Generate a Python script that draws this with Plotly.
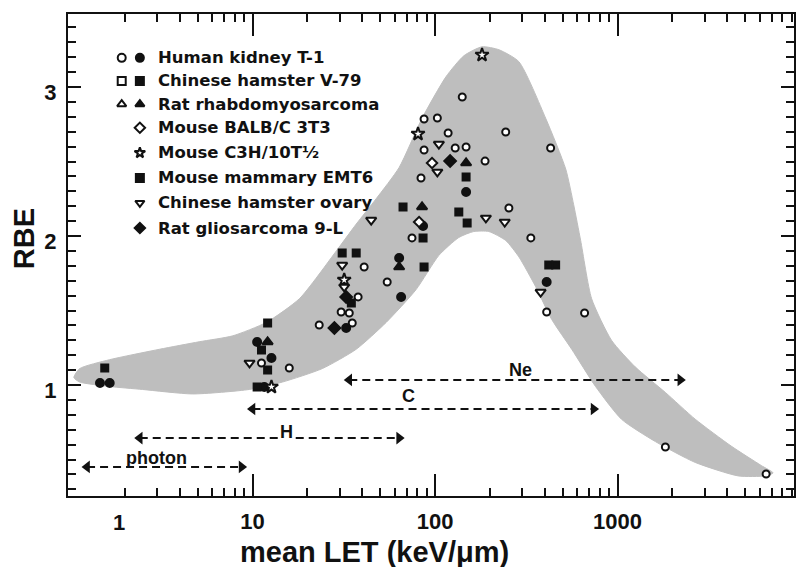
import numpy as np
import plotly.graph_objects as go

# ---------------- data ----------------
band_upper_let = [1.05, 1.13, 1.65, 3.1, 5.1, 7.8, 11.9, 18.1, 28.8, 37, 47.6, 63.6, 84.9, 115, 144, 181,
                  224, 288, 404, 520, 575, 628, 721, 927, 1254, 1829, 2668, 4197, 6124, 7120]
band_upper_rbe = [1.05, 1.11, 1.17, 1.24, 1.29, 1.33, 1.42, 1.58, 1.90, 2.08, 2.25, 2.46, 2.79, 3.07, 3.21, 3.27,
                  3.25, 3.17, 2.79, 2.45, 2.21, 1.97, 1.58, 1.30, 1.12, 0.95, 0.77, 0.59, 0.46, 0.41]
band_lower_let = [6440, 4581, 2668, 1614, 1052, 758, 561, 436, 356, 288, 244, 197, 163, 135, 105, 78.7,
                  54, 37, 24.1, 14.6, 9.6, 4.7, 2.5, 1.65, 1.13]
band_lower_rbe = [0.39, 0.39, 0.48, 0.62, 0.77, 0.99, 1.24, 1.44, 1.66, 1.86, 1.97, 2.03, 2.03, 1.99, 1.87, 1.64,
                  1.42, 1.24, 1.11, 1.02, 0.97, 0.94, 0.97, 0.99, 1.02]

kidney_open_let = [11.2, 15.9, 23.2, 35.2, 30.6, 33.9, 37.9, 40.9, 54.7, 74.8, 83.8, 87.1, 87.1, 103, 118, 129,
                   148, 188, 141, 244, 430, 254, 335, 409, 660, 1829, 6520]
kidney_open_rbe = [1.148, 1.114, 1.403, 1.416, 1.490, 1.483, 1.591, 1.792, 1.691, 1.987, 2.389, 2.577, 2.785,
                   2.792, 2.691, 2.591, 2.597, 2.503, 2.933, 2.698, 2.591, 2.188, 1.987, 1.490, 1.483, 0.584, 0.403]
kidney_filled_let = [1.46, 1.65, 10.6, 12.7, 11.6, 32.6, 65.2, 63.6, 86, 148, 409]
kidney_filled_rbe = [1.013, 1.013, 1.289, 1.181, 0.987, 1.383, 1.591, 1.852, 2.067, 2.295, 1.691]

v79_filled_let = [12.1, 11.2, 12.1, 34.8, 87.1, 66.8, 86, 148, 135, 150]
v79_filled_rbe = [1.416, 1.235, 1.101, 1.550, 1.792, 2.195, 1.987, 2.396, 2.161, 2.087]

rat_filled_let = [12.1, 63.6, 84.9, 148]
rat_filled_rbe = [1.289, 1.792, 2.195, 2.490]

balbc_let = [81.8, 96.3]
balbc_rbe = [2.094, 2.490]

c3h_let = [12.7, 31.8, 80.7, 181]
c3h_rbe = [0.987, 1.705, 2.685, 3.215]

emt6_let = [1.55, 10.6, 31.0, 37.0, 420, 458]
emt6_rbe = [1.114, 0.987, 1.886, 1.886, 1.805, 1.805]

cho_let = [9.63, 31.8, 31.0, 44.7, 103, 105, 190, 241, 379]
cho_rbe = [1.148, 1.658, 1.805, 2.107, 2.430, 2.617, 2.121, 2.094, 1.624]

gliosarcoma_let = [28.1, 32.6, 121]
gliosarcoma_rbe = [1.383, 1.591, 2.503]

arrow_labels = ["Ne", "C", "H", "photon"]
arrow_start_let = [33.9, 10.0, 2.41, 1.24]
arrow_end_let = [2208, 739, 63.6, 8.71]
arrow_rbe = [1.034, 0.839, 0.644, 0.450]
arrow_label_let = [295, 72, 15.3, 2.99]
arrow_label_rbe = [1.10, 0.926, 0.685, 0.51]

legend_names = ["Human kidney T-1", "Chinese hamster V-79", "Rat rhabdomyosarcoma", "Mouse BALB/C 3T3",
                "Mouse C3H/10T½", "Mouse mammary EMT6", "Chinese hamster ovary", "Rat gliosarcoma 9-L"]

x_tick_vals = [10, 100, 1000]
x_tick_text = ["10", "100", "1000"]
y_tick_vals = [1, 2, 3]
y_tick_text = ["1", "2", "3"]
x_title = "mean LET (keV/μm)"
y_title = "RBE"

# ---------------- styles ----------------
BLACK = "#111111"
BAND = "rgb(190,190,190)"
TXT = "Liberation Sans, Arial, sans-serif"
LEG = "DejaVu Sans, sans-serif"

fig = go.Figure()

# shaded band
fig.add_trace(go.Scatter(
    x=band_upper_let + band_lower_let + band_upper_let[:1],
    y=band_upper_rbe + band_lower_rbe + band_upper_rbe[:1],
    mode="lines", fill="toself", fillcolor=BAND,
    line=dict(color=BAND, width=1, shape="spline", smoothing=0.6),
    hoverinfo="skip", showlegend=False))

# dashed double arrows
for lab, x0, x1, yv in zip(arrow_labels, arrow_start_let, arrow_end_let, arrow_rbe):
    fig.add_trace(go.Scatter(
        x=[x0, x1], y=[yv, yv], mode="lines+markers",
        line=dict(color=BLACK, width=2, dash="8px,5px"),
        marker=dict(symbol=["triangle-left", "triangle-right"], size=11, color=BLACK, line=dict(width=0)),
        showlegend=False, hoverinfo="skip"))

for lab, xv, yv in zip(arrow_labels, arrow_label_let, arrow_label_rbe):
    fig.add_annotation(x=np.log10(xv), y=yv, text="<b>%s</b>" % lab, showarrow=False,
                       font=dict(family=TXT, size=18, color=BLACK),
                       bgcolor="white" if lab == "H" else "rgba(0,0,0,0)", borderpad=0)

def pts(x, y, symbol, filled, size=8):
    fig.add_trace(go.Scatter(
        x=x, y=y, mode="markers", showlegend=False,
        marker=dict(symbol=symbol, size=size, color=BLACK if filled else "white",
                    line=dict(color=BLACK, width=2))))

pts(kidney_open_let, kidney_open_rbe, "circle", False, 7)
pts(kidney_filled_let, kidney_filled_rbe, "circle", True, 8)
pts(v79_filled_let, v79_filled_rbe, "square", True, 7)
pts(emt6_let, emt6_rbe, "square", True, 7)
pts(rat_filled_let, rat_filled_rbe, "triangle-up", True, 9)
pts(balbc_let, balbc_rbe, "diamond", False, 8)
pts(c3h_let, c3h_rbe, "star", False, 10)
pts(cho_let, cho_rbe, "triangle-down", False, 9)
pts(gliosarcoma_let, gliosarcoma_rbe, "diamond", True, 9)

# ---------------- hand-made legend (overlay axes in plot-area fractions) ----------------
leg_rows_y = [0.909, 0.861, 0.813, 0.764, 0.712, 0.660, 0.608, 0.556]
leg_open_x, leg_fill_x, leg_text_x = 0.074, 0.099, 0.121
leg_pairs = [("circle", "circle"), ("square", "square"), ("triangle-up", "triangle-up")]
leg_single = [("diamond", False), ("star", False), ("square", True), ("triangle-down", False), ("diamond", True)]
lx, ly, lsym, lcol = [], [], [], []
for i, (so, sf) in enumerate(leg_pairs):
    lx += [leg_open_x, leg_fill_x]; ly += [leg_rows_y[i]] * 2
    lsym += [so, sf]; lcol += ["white", BLACK]
for j, (s, f) in enumerate(leg_single):
    lx.append(leg_fill_x); ly.append(leg_rows_y[3 + j]); lsym.append(s); lcol.append(BLACK if f else "white")
fig.add_trace(go.Scatter(x=lx, y=ly, xaxis="x2", yaxis="y2", mode="markers", showlegend=False,
                         marker=dict(symbol=lsym, size=8, color=lcol, line=dict(color=BLACK, width=2)),
                         hoverinfo="skip"))
for name, yv in zip(legend_names, leg_rows_y):
    fig.add_annotation(xref="paper", yref="paper", x=leg_text_x, y=yv, text=name, showarrow=False,
                       xanchor="left", yanchor="middle",
                       font=dict(family=LEG, size=16.5, color=BLACK, weight="bold"))

# "1" tick label (drawn where the figure prints it)
fig.add_annotation(xref="x", yref="paper", x=np.log10(1.85), y=0, yanchor="middle", yshift=-26,
                   text="1", showarrow=False, font=dict(family=TXT, size=22, color=BLACK, weight="bold"))

# axis titles (placed as in the figure, off-centre)
fig.add_annotation(xref="paper", yref="paper", x=0.422, y=0, yanchor="middle", yshift=-56,
                   text=x_title, showarrow=False, font=dict(family=TXT, size=29, color=BLACK, weight="bold"))
fig.add_annotation(xref="paper", yref="paper", x=-0.0604, y=0.533, xanchor="center", yanchor="middle",
                   textangle=-90, text=y_title, showarrow=False,
                   font=dict(family=TXT, size=29, color=BLACK, weight="bold"))

minor_x = [k * 10 ** n for n in range(0, 4) for k in range(2, 10)]

fig.update_layout(
    width=799, height=567,
    margin=dict(l=68, r=3, t=14, b=71),
    plot_bgcolor="white", paper_bgcolor="white",
    xaxis=dict(type="log", range=[-0.011, 3.967], showline=True, linecolor=BLACK, linewidth=2,
               mirror="ticks", ticks="inside", ticklen=22, tickwidth=1.5, tickcolor=BLACK,
               tickvals=x_tick_vals, ticktext=x_tick_text, ticklabelstandoff=5,
               tickfont=dict(family=TXT, size=22, color=BLACK, weight="bold"),
               minor=dict(ticks="inside", ticklen=8, tickwidth=1.5, tickcolor=BLACK, tickvals=minor_x),
               showgrid=False, zeroline=False),
    yaxis=dict(range=[0.255, 3.49], showline=True, linecolor=BLACK, linewidth=2,
               mirror="ticks", ticks="inside", ticklen=13, tickwidth=1.5, tickcolor=BLACK,
               tickvals=y_tick_vals, ticktext=y_tick_text, ticklabelstandoff=5, ticklabelshift=5,
               tickfont=dict(family=TXT, size=22, color=BLACK, weight="bold"),
               minor=dict(ticks="inside", ticklen=8, tickwidth=1.5, tickcolor=BLACK, dtick=0.1, tick0=0),
               showgrid=False, zeroline=False),
    xaxis2=dict(overlaying="x", range=[0, 1], visible=False, fixedrange=True),
    yaxis2=dict(overlaying="y", range=[0, 1], visible=False, fixedrange=True),
)

fig.write_html("out.html", config={"displayModeBar": False},
               post_script="document.body.style.margin='0px';")
